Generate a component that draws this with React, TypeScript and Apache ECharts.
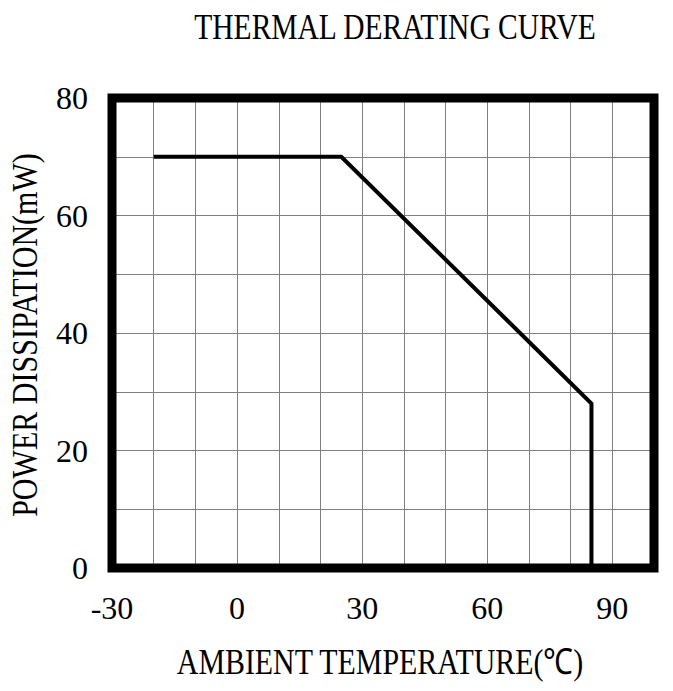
import React, { useEffect, useRef } from "react";
import * as echarts from "echarts";

const temperatures = [-20, 25, 85, 85];
const powers = [70, 70, 28, 0];
const xTickLabels = [-30, 0, 30, 60, 90];
const yTickLabels = [0, 20, 40, 60, 80];
const titleText = "THERMAL DERATING CURVE";
const xName = "AMBIENT TEMPERATURE(℃)";
const yName = "POWER DISSIPATION(mW)";

const FONT = '"Liberation Serif", "Times New Roman", serif';

export default function App() {
  const ref = useRef<HTMLDivElement>(null);
  useEffect(() => {
    if (!ref.current) return;
    const chart = echarts.init(ref.current, null, { renderer: "svg" });
    const data = temperatures.map((t, i) => [t, powers[i]]);
    chart.setOption({
      animation: false,
      backgroundColor: "#ffffff",
      grid: {
        left: 112,
        right: 19,
        top: 98,
        bottom: 123,
        show: true,
        borderColor: "#000000",
        borderWidth: 9,
        backgroundColor: "transparent",
        z: 5,
      },
      xAxis: {
        type: "value",
        min: -30,
        max: 100,
        interval: 10,
        axisLine: { show: false },
        axisTick: { show: false },
        splitLine: { show: true, lineStyle: { color: "#808080", width: 1 } },
        axisLabel: {
          margin: 24,
          fontFamily: FONT,
          fontSize: 32,
          color: "#000",
          formatter: (v: number) => (xTickLabels.includes(v) ? String(v) : ""),
        },
      },
      yAxis: {
        type: "value",
        min: 0,
        max: 80,
        interval: 10,
        axisLine: { show: false },
        axisTick: { show: false },
        splitLine: { show: true, lineStyle: { color: "#808080", width: 1 } },
        axisLabel: {
          margin: 24,
          fontFamily: FONT,
          fontSize: 32,
          color: "#000",
          formatter: (v: number) => (yTickLabels.includes(v) ? String(v) : ""),
        },
      },
      series: [
        {
          type: "line",
          data,
          symbol: "none",
          z: 10,
          lineStyle: { color: "#000", width: 4, join: "miter" },
        },
      ],
      graphic: [
        {
          type: "text",
          x: 395,
          y: 27,
          scaleX: 0.82,
          style: {
            text: titleText,
            font: `36px ${FONT}`,
            fill: "#000",
            textAlign: "center",
            textVerticalAlign: "middle",
          },
        },
        {
          type: "text",
          x: 380,
          y: 662,
          scaleX: 0.83,
          style: {
            text: xName,
            font: `36px ${FONT}`,
            fill: "#000",
            textAlign: "center",
            textVerticalAlign: "middle",
          },
        },
        {
          type: "text",
          x: 25,
          y: 335,
          rotation: Math.PI / 2,
          scaleX: 0.835,
          style: {
            text: yName,
            font: `36px ${FONT}`,
            fill: "#000",
            textAlign: "center",
            textVerticalAlign: "middle",
          },
        },
      ],
    });
    return () => chart.dispose();
  }, []);
  return <div ref={ref} style={{ width: 673, height: 691, margin: -8 }} />;
}
